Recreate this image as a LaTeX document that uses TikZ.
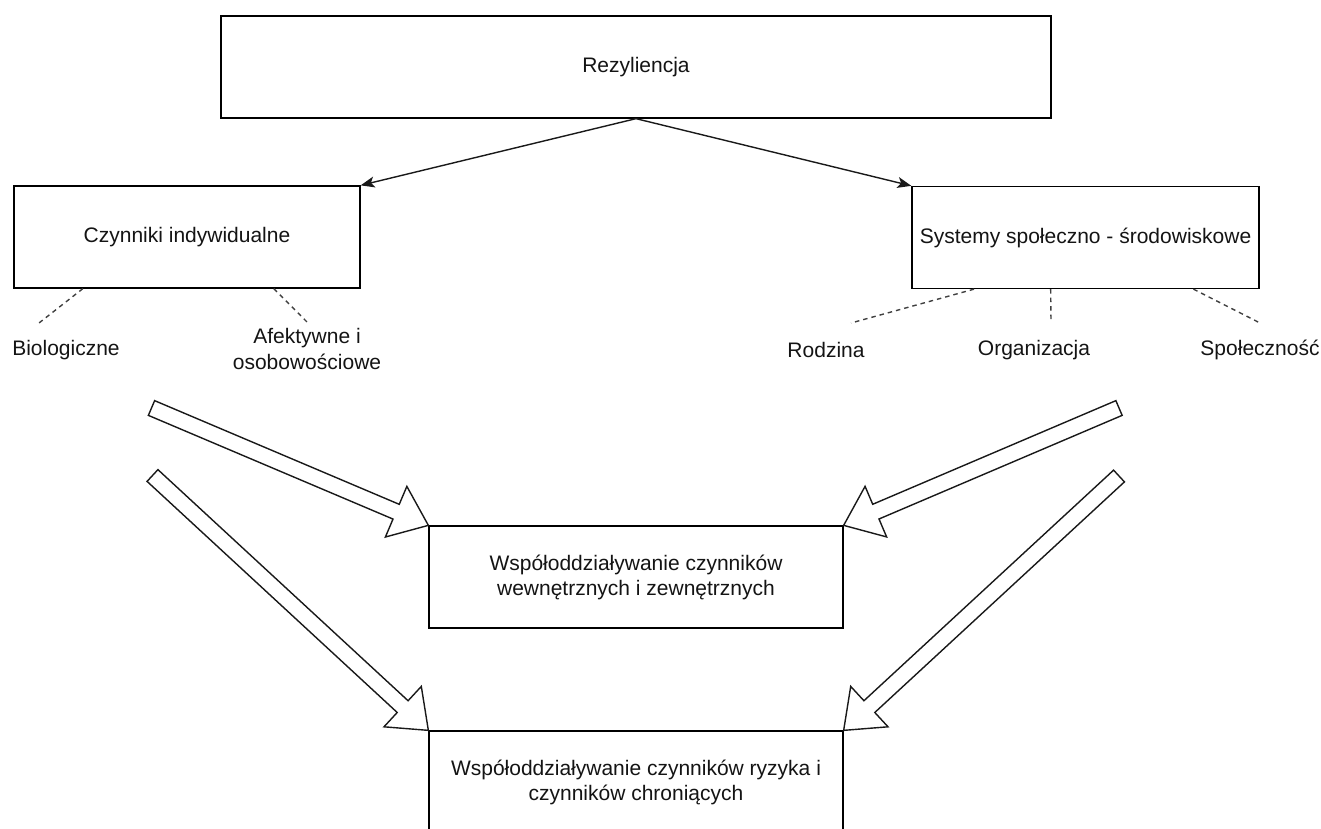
\documentclass[tikz,border=0pt]{standalone}
\usepackage{fontspec}
\setmainfont{Liberation Sans}
\usetikzlibrary{calc,arrows.meta}

\tikzset{
  box/.style={draw=black, line width=1.3pt, fill=white, align=center,
    inner sep=0pt, minimum height=102pt, text=black!92,
    font=\fontsize{21}{25}\selectfont},
  lbl/.style={align=center, inner sep=0pt, text=black!92,
    font=\fontsize{21}{26}\selectfont},
  link/.style={line width=1.4pt, draw=black!90,
    -{Stealth[length=14pt,width=11pt,inset=3.5pt]}},
  dashlink/.style={line width=1.4pt, dash pattern=on 4.5pt off 4pt, draw=black!75},
  hollow/.style={draw=black!90, line width=1.4pt, fill=white, line join=miter},
}

% Wide outlined arrow from tail #1 to tip #2; #3 names its head base.
\newcommand{\hollowarrow}[3]{%
  \coordinate (#3) at ($(#2)!35pt!(#1)$);
  \draw[hollow]
    ($(#1)!8pt!90:(#2)$) -- ($(#3)!8pt!90:(#2)$) -- ($(#3)!27.5pt!90:(#2)$)
    -- (#2)
    -- ($(#3)!27.5pt!-90:(#2)$) -- ($(#3)!8pt!-90:(#2)$) -- ($(#1)!8pt!-90:(#2)$)
    -- cycle;
}

\begin{document}
\begin{tikzpicture}[x=1pt, y=-1pt]
  \useasboundingbox (0,0) rectangle (1321,828);
  \clip (0,0) rectangle (1321,828);

  % boxes
  \node[box, minimum width=830pt] (rez) at (636,67) {Rezyliencja};
  \node[box, minimum width=346pt] (ind) at (187,237) {Czynniki indywidualne};
  \node[box, minimum width=347pt] (sys) at (1085.5,237.5) {Systemy społeczno - środowiskowe};
  \node[box, minimum width=414pt] (mid) at (636,577)
    {Współoddziaływanie czynników\\wewnętrznych i zewnętrznych};
  \node[box, minimum width=414pt] (low) at (636,782)
    {Współoddziaływanie czynników ryzyka i\\czynników chroniących};

  % branches from the top box
  \draw[link] (rez.south) -- (ind.north east);
  \draw[link] (rez.south) -- (sys.north west);

  % component labels
  \node[lbl] (bio) at (66,350) {Biologiczne};
  \node[lbl] (afe) at (307,349) {Afektywne i\\osobowościowe};
  \node[lbl] (rod) at (826,350) {Rodzina};
  \node[lbl] (org) at (1034,350) {Organizacja};
  \node[lbl] (spo) at (1260,350) {Społeczność};

  % dashed ties between boxes and their components
  \coordinate (d1) at (39,323);
  \coordinate (d2) at (307,322);
  \coordinate (d3) at (851,323);
  \coordinate (d4) at (1051,323);
  \coordinate (d5) at (1260,323);
  \draw[dashlink] ($(ind.south west)!0.2!(ind.south east)$) -- (d1);
  \draw[dashlink] ($(ind.south west)!0.75!(ind.south east)$) -- (d2);
  \draw[dashlink] ($(sys.south west)!0.18!(sys.south east)$) -- (d3);
  \draw[dashlink] ($(sys.south west)!0.40!(sys.south east)$) -- (d4);
  \draw[dashlink] ($(sys.south west)!0.81!(sys.south east)$) -- (d5);

  % wide arrows into the interaction boxes
  \coordinate (t1) at (151.5,408);
  \coordinate (t2) at (152.5,475.5);
  \coordinate (t3) at (1119,408);
  \coordinate (t4) at (1119,476);
  \hollowarrow{t1}{mid.north west}{h1}
  \hollowarrow{t2}{low.north west}{h2}
  \hollowarrow{t3}{mid.north east}{h3}
  \hollowarrow{t4}{low.north east}{h4}
\end{tikzpicture}
\end{document}
